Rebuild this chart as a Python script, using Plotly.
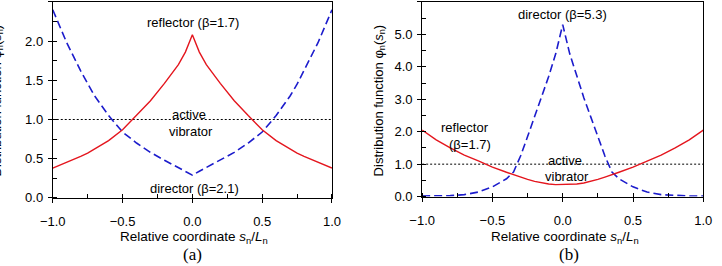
import plotly.graph_objects as go

# ---- data ----
x_half = [0.0, 0.05, 0.1, 0.2, 0.3, 0.4, 0.5, 0.6, 0.7, 0.75, 0.8, 0.9, 1.0]
a_reflector_half = [2.08, 1.86, 1.70, 1.46, 1.24, 1.05, 0.87, 0.73, 0.62, 0.57, 0.53, 0.45, 0.38]
a_director_half = [0.29, 0.34, 0.39, 0.48, 0.58, 0.70, 0.84, 1.05, 1.30, 1.45, 1.62, 1.98, 2.40]

xb_half = [0.0, 0.05, 0.1, 0.15, 0.2, 0.25, 0.3, 0.35, 0.4, 0.5, 0.6, 0.7, 0.8, 0.9, 1.0]
b_reflector_half = [0.37, 0.37, 0.39, 0.42, 0.47, 0.53, 0.60, 0.67, 0.75, 0.91, 1.10, 1.28, 1.50, 1.75, 2.05]
b_director_half = [5.30, 4.40, 3.70, 3.05, 2.45, 1.85, 1.25, 0.76, 0.55, 0.30, 0.14, 0.06, 0.03, 0.02, 0.02]


def mirror(xs, ys):
    xx = [-v for v in xs[::-1]] + xs[1:]
    yy = ys[::-1] + ys[1:]
    return xx, yy


ax_x, ax_r = mirror(x_half, a_reflector_half)
_, ax_d = mirror(x_half, a_director_half)
bx_x, bx_r = mirror(xb_half, b_reflector_half)
_, bx_d = mirror(xb_half, b_director_half)

W, H = 722, 266
RED = "#e4161e"
BLUE = "#1c1ccc"

fig = go.Figure()

# panel a
fig.add_trace(go.Scatter(x=[-1, 1], y=[1, 1], mode="lines",
                         line=dict(color="black", width=1, dash="2px,2px"),
                         xaxis="x", yaxis="y", showlegend=False))
fig.add_trace(go.Scatter(x=ax_x, y=ax_d, mode="lines",
                         line=dict(color=BLUE, width=1.6, dash="8px,4px"),
                         xaxis="x", yaxis="y", showlegend=False))
fig.add_trace(go.Scatter(x=ax_x, y=ax_r, mode="lines",
                         line=dict(color=RED, width=1.4),
                         xaxis="x", yaxis="y", showlegend=False))
# panel b
fig.add_trace(go.Scatter(x=[-1, 1], y=[1, 1], mode="lines",
                         line=dict(color="black", width=1, dash="2px,2px"),
                         xaxis="x2", yaxis="y2", showlegend=False))
fig.add_trace(go.Scatter(x=bx_x, y=bx_d, mode="lines",
                         line=dict(color=BLUE, width=1.6, dash="8px,4px"),
                         xaxis="x2", yaxis="y2", showlegend=False))
fig.add_trace(go.Scatter(x=bx_x, y=bx_r, mode="lines",
                         line=dict(color=RED, width=1.4),
                         xaxis="x2", yaxis="y2", showlegend=False))

FONT = dict(family="Liberation Sans, Arial, sans-serif", size=13, color="black")
TFONT = dict(family="Liberation Sans, Arial, sans-serif", size=13.5, color="black")


def px_x(p):
    return p / W


def px_y(p):
    return 1 - p / H


common_x = dict(range=[-1, 1], dtick=0.5, tick0=-1, tickformat=".1f",
                ticks="outside", ticklen=4, tickwidth=1, tickcolor="black",
                minor=dict(dtick=0.25, ticks="inside", ticklen=4, tickcolor="black"),
                showline=True, linecolor="black", linewidth=1, mirror=True,
                showgrid=False, zeroline=False, tickfont=FONT, ticklabelstandoff=8)
common_y = dict(ticks="outside", ticklen=4, tickwidth=1, tickcolor="black",
                showline=True, linecolor="black", linewidth=1, mirror=True,
                showgrid=False, zeroline=False, tickfont=FONT, tickformat=".1f",
                ticklabelstandoff=2)

fig.update_layout(
    width=W, height=H,
    margin=dict(l=0, r=0, t=0, b=0),
    paper_bgcolor="white", plot_bgcolor="white",
    font=FONT,
    xaxis=dict(domain=[px_x(41), px_x(329)], anchor="y", **common_x),
    yaxis=dict(domain=[px_y(204), px_y(2)], anchor="x", range=[0, 2.5], dtick=0.5, tick0=0,
               minor=dict(dtick=0.25, ticks="inside", ticklen=4, tickcolor="black"), **common_y),
    xaxis2=dict(domain=[px_x(422), px_x(712)], anchor="y2", **common_x),
    yaxis2=dict(domain=[px_y(202.7), px_y(2)], anchor="x2", range=[0, 6], dtick=1, tick0=0,
                minor=dict(dtick=0.5, ticks="inside", ticklen=4, tickcolor="black"), **common_y),
)

ann = [
    # panel a labels
    ("reflector (β=1.7)", 186, 23, 0, FONT),
    ("active", 182, 118, 0, FONT),
    ("vibrator", 184, 136, 0, FONT),
    ("director (β=2.1)", 187, 194, 0, FONT),
    # panel b labels
    ("director (β=5.3)", 567, 15, 0, FONT),
    ("reflector", 466, 131, 0, FONT),
    ("(β=1.7)", 471, 149, 0, FONT),
    ("active", 569, 165, 0, FONT),
    ("vibrator", 571, 182, 0, FONT),
    # axis titles
    ("Relative coordinate <i>s</i><sub>n</sub>/<i>L</i><sub>n</sub>", 187, 245, 0, TFONT),
    ("Relative coordinate <i>s</i><sub>n</sub>/<i>L</i><sub>n</sub>", 569, 245, 0, TFONT),
    ("Distribution function φ<sub>n</sub>(<i>s</i><sub>n</sub>)", -16, 103, -90, FONT),
    ("Distribution function φ<sub>n</sub>(<i>s</i><sub>n</sub>)", 378, 103, -90, FONT),
]
for text, x, y, ang, f in ann:
    fig.add_annotation(text=text, xref="paper", yref="paper", x=px_x(x), y=px_y(y),
                       xanchor="center", yanchor="middle", showarrow=False,
                       textangle=ang, font=f)

for text, x in [("(a)", 185), ("(b)", 573)]:
    fig.add_annotation(text=text, xref="paper", yref="paper", x=px_x(x), y=px_y(273),
                       xanchor="center", yanchor="bottom", showarrow=False, borderpad=0,
                       font=dict(family="Liberation Serif, Times New Roman, serif", size=17, color="black"))

fig.write_html("out.html")
